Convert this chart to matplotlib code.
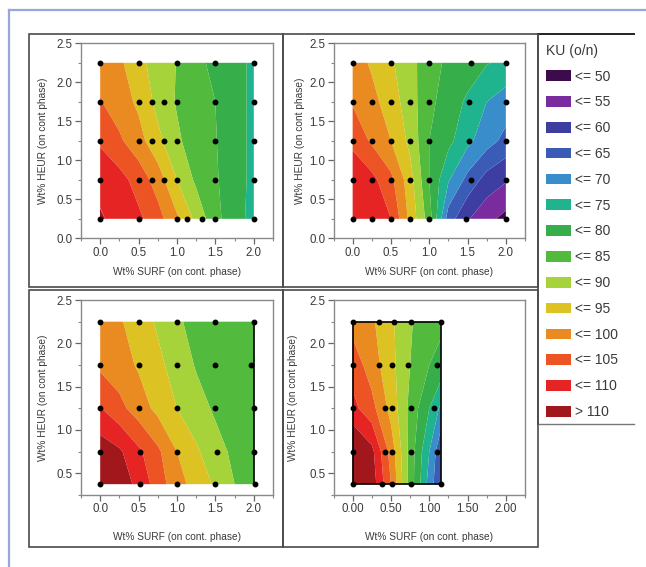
import numpy as np
import matplotlib
matplotlib.use('Agg')
import matplotlib.pyplot as plt
from matplotlib.patches import Patch, Rectangle
from matplotlib.lines import Line2D
from matplotlib.ticker import MultipleLocator, FormatStrFormatter

plt.rcParams['font.family'] = ['Liberation Sans', 'DejaVu Sans']

# ---------------- data ----------------
levels = [0, 50, 55, 60, 65, 70, 75, 80, 85, 90, 95, 100, 105, 110, 200]
class_labels = ['<= 50', '<= 55', '<= 60', '<= 65', '<= 70', '<= 75', '<= 80',
                '<= 85', '<= 90', '<= 95', '<= 100', '<= 105', '<= 110', '> 110']
class_colors = ['#3d0b4c', '#7a2b9e', '#3d3da2', '#3a5cb6', '#3a8dcb', '#20b48e',
                '#36ae4a', '#52bb3e', '#a6d23a', '#dcc222', '#e98b20', '#ec5424',
                '#e62424', '#a2171b']

x_label = 'Wt% SURF (on cont. phase)'
y_label = 'Wt% HEUR (on cont phase)'

# Panel A (top-left)
a_x = [0, 0.25, 0.5, 0.75, 1.0, 1.25, 1.5, 1.75, 2.0]
a_y = [0.25, 0.75, 1.25, 1.75, 2.25]
a_ku = [[110.6, 108.2, 106.0, 102.0, 95.8, 88.7, 81.5, 76.8, 73.5],
        [108.5, 106.8, 103.0, 97.7, 90.0, 84.0, 80.5, 77.5, 73.5],
        [104.3, 100.8, 96.9, 91.4, 86.0, 82.0, 80.2, 77.5, 73.5],
        [100.3, 97.5, 94.0, 88.5, 84.5, 81.5, 80.0, 77.5, 73.5],
        [98.5, 96.0, 91.5, 87.8, 84.8, 80.5, 79.5, 77.5, 73.5]]
a_pts_x = [0, 0.5, 1.0, 1.125, 1.33, 1.5, 2.0,
           0, 0.5, 0.67, 0.83, 1.0, 1.5, 2.0,
           0, 0.5, 0.67, 0.83, 1.0, 1.5, 2.0,
           0, 0.5, 0.67, 0.83, 1.0, 1.5, 2.0,
           0, 0.5, 1.0, 1.5, 2.0]
a_pts_y = [0.25] * 7 + [0.75] * 7 + [1.25] * 7 + [1.75] * 7 + [2.25] * 5

# Panel B (top-right)
b_x = [0, 0.25, 0.5, 0.75, 1.0, 1.25, 1.5, 1.75, 2.0]
b_y = [0.25, 0.75, 1.25, 1.75, 2.25]
b_ku = [[109.0, 107.5, 105.0, 93.6, 82.5, 62.5, 55.5, 51.5, 48.5],
        [108.0, 106.5, 101.3, 92.1, 80.0, 70.5, 63.5, 58.0, 55.5],
        [104.0, 99.2, 95.0, 88.7, 80.0, 76.4, 71.3, 67.1, 63.5],
        [99.5, 96.5, 92.6, 87.2, 81.3, 77.5, 74.2, 70.0, 67.5],
        [97.5, 94.3, 90.7, 86.7, 82.0, 79.0, 77.5, 75.3, 74.0]]
b_pts_x = [0, 0.25, 0.5, 0.75, 1.0, 1.48, 2.0,
           0, 0.25, 0.5, 0.75, 1.0, 1.55, 2.0,
           0, 0.25, 0.5, 0.75, 1.0, 1.52, 2.0,
           0, 0.25, 0.5, 0.75, 1.0, 1.52, 2.0,
           0, 0.5, 1.0, 1.55, 2.0]
b_pts_y = [0.25] * 7 + [0.75] * 7 + [1.25] * 7 + [1.75] * 7 + [2.25] * 5

# Panel C (bottom-left)
c_x = [0, 0.25, 0.5, 0.75, 1.0, 1.25, 1.5, 1.75, 2.0]
c_y = [0.375, 0.75, 1.25, 1.75, 2.25]
c_ku = [[115.0, 112.5, 108.8, 102.5, 97.0, 93.0, 89.3, 85.0, 83.5],
        [113.0, 110.8, 106.0, 101.0, 95.0, 90.8, 86.7, 84.0, 83.0],
        [105.3, 101.5, 97.5, 93.6, 90.0, 86.9, 84.3, 83.0, 82.0],
        [99.0, 97.2, 94.4, 91.2, 87.9, 84.6, 83.0, 82.0, 81.5],
        [98.5, 95.6, 92.5, 89.3, 85.7, 83.5, 82.0, 81.0, 80.5]]
c_pts_x = [0, 0.52, 1.0, 1.5, 2.02,
           0, 0.52, 1.0, 1.52, 2.0,
           0, 0.5, 1.0, 1.5, 2.0,
           0, 0.5, 1.0, 1.5, 1.97,
           0, 0.5, 1.0, 1.5, 2.0]
c_pts_y = [0.375] * 5 + [0.75] * 5 + [1.25] * 5 + [1.75] * 5 + [2.25] * 5

# Panel D (bottom-right)
d_x = [0, 0.25, 0.5, 0.75, 1.0, 1.15]
d_y = [0.375, 0.75, 1.25, 1.75, 2.25]
d_ku = [[117.0, 113.0, 100.0, 83.0, 68.0, 60.0],
        [116.0, 111.5, 98.0, 83.0, 70.0, 61.0],
        [106.5, 101.7, 93.3, 83.6, 75.0, 69.0],
        [103.0, 97.5, 91.6, 85.0, 80.0, 78.5],
        [98.0, 95.8, 91.0, 85.5, 82.0, 81.0]]
d_pts_x = [0, 0.38, 0.52, 0.76, 1.15,
           0, 0.42, 0.52, 0.76, 1.1,
           0, 0.42, 0.52, 0.76, 1.06,
           0, 0.34, 0.52, 0.72, 1.1,
           0, 0.34, 0.54, 0.76, 1.15]
d_pts_y = [0.375] * 5 + [0.75] * 5 + [1.25] * 5 + [1.75] * 5 + [2.25] * 5

# ---------------- layout ----------------
W, H = 646, 567
fig = plt.figure(figsize=(W / 100, H / 100), dpi=100)
fig.patch.set_facecolor('white')


def fx(px):
    return px / W


def fy(py):
    return 1 - py / H


def make_axes(l, r, t, b):
    return fig.add_axes([fx(l), fy(b), fx(r) - fx(l), fy(t) - fy(b)])


panels = [
    dict(box=(81, 273, 43.3, 238.3), ylim=(0, 2.5), x=a_x, y=a_y, z=a_ku,
         px=a_pts_x, py=a_pts_y, xfmt='%.1f', ylab=-0.20, xlab=-0.175, outline=None),
    dict(box=(333.5, 525, 43.3, 238.3), ylim=(0, 2.5), x=b_x, y=b_y, z=b_ku,
         px=b_pts_x, py=b_pts_y, xfmt='%.1f', ylab=-0.175, xlab=-0.175, outline=None),
    dict(box=(81, 273, 300, 495), ylim=(0.25, 2.5), x=c_x, y=c_y, z=c_ku,
         px=c_pts_x, py=c_pts_y, xfmt='%.1f', ylab=-0.20, xlab=-0.214, outline='right'),
    dict(box=(333.5, 525, 300, 495), ylim=(0.25, 2.5), x=d_x, y=d_y, z=d_ku,
         px=d_pts_x, py=d_pts_y, xfmt='%.2f', ylab=-0.21, xlab=-0.214, outline='box'),
]

spine_col = '#8a8a8a'
text_col = '#3a3a3a'

for p in panels:
    ax = make_axes(*p['box'])
    X, Y = np.meshgrid(p['x'], p['y'])
    Z = np.array(p['z'])
    ax.contourf(X, Y, Z, levels=levels, colors=class_colors, antialiased=True)
    ax.plot(p['px'], p['py'], 'o', color='black', markersize=3.2, zorder=5,
            clip_on=False)
    xs, ys = p['x'], p['y']
    if p['outline'] == 'right':
        ax.plot([xs[-1], xs[-1]], [ys[0], ys[-1]], color='black', lw=1.2, zorder=4)
    elif p['outline'] == 'box':
        ax.plot([xs[0], xs[-1], xs[-1], xs[0], xs[0]],
                [ys[0], ys[0], ys[-1], ys[-1], ys[0]], color='black', lw=1.2, zorder=4)
    ax.set_xlim(-0.25, 2.25)
    ax.set_ylim(*p['ylim'])
    ax.xaxis.set_major_locator(MultipleLocator(0.5))
    ax.xaxis.set_minor_locator(MultipleLocator(0.25))
    ax.yaxis.set_major_locator(MultipleLocator(0.5))
    ax.yaxis.set_minor_locator(MultipleLocator(0.25))
    ax.xaxis.set_major_formatter(FormatStrFormatter(p['xfmt']))
    ax.yaxis.set_major_formatter(FormatStrFormatter('%.1f'))
    ax.set_xticks([0, 0.5, 1.0, 1.5, 2.0])
    ax.tick_params(which='major', direction='out', length=4, width=0.9,
                   color='#666666', labelsize=8.3, labelcolor=text_col, pad=2)
    ax.tick_params(which='minor', direction='out', length=2.5, width=0.8,
                   color='#888888')
    for s in ax.spines.values():
        s.set_color(spine_col)
        s.set_linewidth(1.0)
    ax.set_xlabel(x_label, fontsize=7.3, color=text_col)
    ax.set_ylabel(y_label, fontsize=7.3, color=text_col)
    ax.xaxis.set_label_coords(0.5, p['xlab'])
    ax.yaxis.set_label_coords(p['ylab'], 0.5)
    ax.xaxis.label.set_va('center')
    ax.yaxis.label.set_va('center')

# panel frames
frame_col = '#4a4a4a'
for (l, r, t, b) in [(29, 283, 34, 287), (283, 538, 34, 287),
                     (29, 283, 290, 547), (283, 538, 290, 547)]:
    fig.add_artist(Rectangle((fx(l), fy(b)), fx(r) - fx(l), fy(t) - fy(b),
                             transform=fig.transFigure, fill=False,
                             edgecolor=frame_col, linewidth=1.2))

# legend frame lines
fig.add_artist(Line2D([fx(538), fx(634)], [fy(34), fy(34)], color='#222222', lw=1.4))
fig.add_artist(Line2D([fx(538), fx(634)], [fy(424), fy(424)], color='#777777', lw=1.0))
fig.add_artist(Line2D([fx(538), fx(538)], [fy(34), fy(424)], color=frame_col, lw=1.2))

# outer blue frame
fig.add_artist(Line2D([fx(9), fx(646)], [fy(10), fy(10)], color='#97a8d6', lw=1.6))
fig.add_artist(Line2D([fx(9), fx(9)], [fy(10), fy(567)], color='#97a8d6', lw=1.6))

handles = [Patch(facecolor=c, edgecolor='none') for c in class_colors]
leg = fig.legend(handles, class_labels, title='KU (o/n)', loc='upper left',
                 bbox_to_anchor=(fx(543), fy(41)), frameon=False, fontsize=10,
                 title_fontsize=10, handlelength=1.8, handleheight=0.8,
                 handletextpad=0.3, labelspacing=0.85, alignment='left',
                 borderpad=0.2, borderaxespad=0)
for t in leg.get_texts():
    t.set_color(text_col)
leg.get_title().set_color(text_col)

fig.savefig('out.png', dpi=100, facecolor='white')
